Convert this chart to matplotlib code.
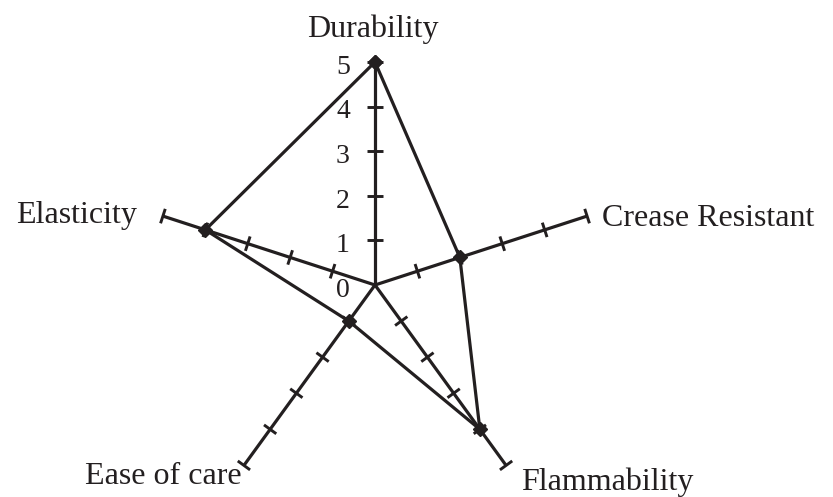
import numpy as np
import matplotlib.pyplot as plt

categories = ['Durability', 'Crease Resistant', 'Flammability', 'Ease of care', 'Elasticity']
values = [5, 2, 4, 1, 4]
scale_ticks = [0, 1, 2, 3, 4, 5]

ink = '#231f20'
plt.rcParams['font.family'] = ['Liberation Serif', 'DejaVu Serif']

fig = plt.figure(figsize=(8.33, 4.97), dpi=100)
ax = fig.add_axes([0, 0, 1, 1])
px = 44.6  # pixels per unit
ax.set_xlim(-375 / px, (833 - 375) / px)
ax.set_ylim(-(497 - 285) / px, 285 / px)
ax.set_aspect('equal')
ax.axis('off')

n = len(categories)
angles = np.pi / 2 - np.arange(n) * 2 * np.pi / n
rmax = max(scale_ticks)

# spokes with cross ticks
for i, a in enumerate(angles):
    ux, uy = np.cos(a), np.sin(a)
    ax.plot([0, rmax * ux], [0, rmax * uy], color=ink, lw=2.3, solid_capstyle='butt', zorder=2)
    nx, ny = -uy, ux
    for t in scale_ticks[1:]:
        cx, cy = t * ux, t * uy
        h = 0.19 if i == 0 else 0.17
        ax.plot([cx - h * nx, cx + h * nx], [cy - h * ny, cy + h * ny],
                color=ink, lw=2.1, solid_capstyle='butt')

# scale labels
for t in scale_ticks:
    ax.text(-0.72, t - 0.12, str(t), ha='center', va='center', fontsize=20, color=ink)

# data polygon
xs = [v * np.cos(a) for v, a in zip(values, angles)]
ys = [v * np.sin(a) for v, a in zip(values, angles)]
ax.plot(xs + xs[:1], ys + ys[:1], color=ink, lw=2.3, marker='D', markersize=7,
        markerfacecolor=ink, markeredgecolor=ink, zorder=3)

# category labels (x, baseline y, alignment)
label_pos = {
    'Durability': (-0.04, 5.56, 'center'),
    'Crease Resistant': (5.09, 1.32, 'left'),
    'Flammability': (5.2, -4.6, 'center'),
    'Ease of care': (-4.75, -4.46, 'center'),
    'Elasticity': (-6.7, 1.39, 'center'),
}
for name in categories:
    x, y, ha = label_pos[name]
    ax.text(x, y, name, ha=ha, va='baseline', fontsize=23, color=ink)

fig.savefig('out.png', dpi=100)
